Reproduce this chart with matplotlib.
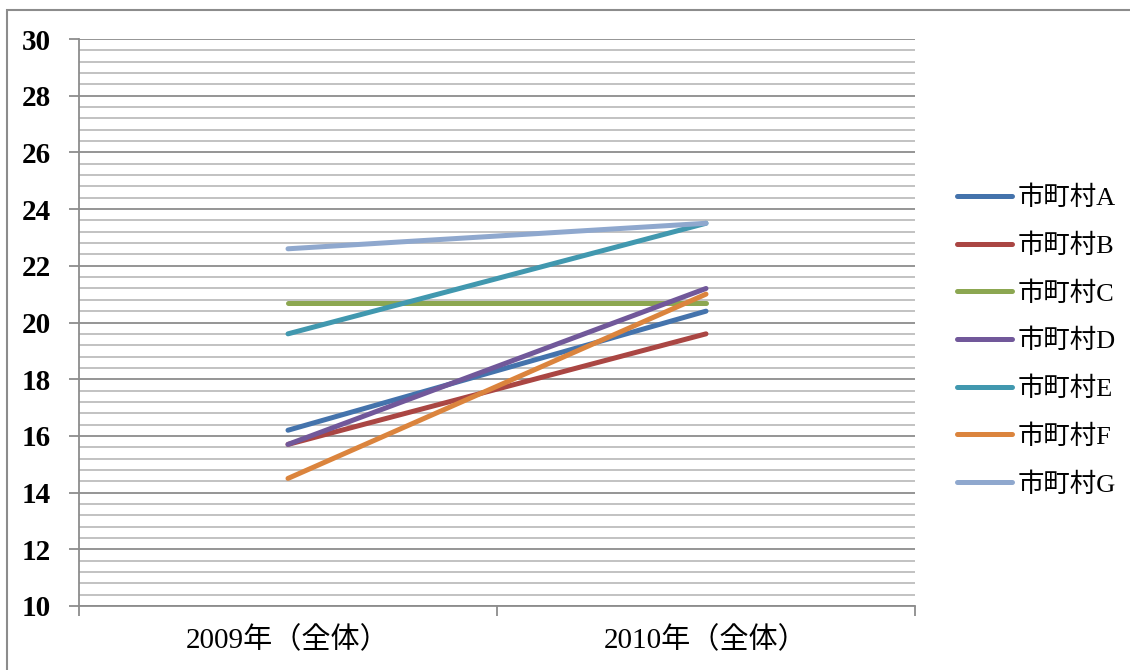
import matplotlib.pyplot as plt
from matplotlib.patches import Rectangle
from matplotlib.ticker import MultipleLocator

categories = ['2009年（全体）', '2010年（全体）']
names = ['市町村A', '市町村B', '市町村C', '市町村D', '市町村E', '市町村F', '市町村G']
values = {
    '市町村A': [16.2, 20.4],
    '市町村B': [15.7, 19.6],
    '市町村C': [20.7, 20.7],
    '市町村D': [15.7, 21.2],
    '市町村E': [19.6, 23.5],
    '市町村F': [14.5, 21.0],
    '市町村G': [22.6, 23.5],
}
colors = ['#4473AC', '#AA4643', '#8CA751', '#71589A', '#4198AF', '#DB843D', '#8FA8CE']

fonts = ['Liberation Serif', 'Noto Sans CJK JP', 'DejaVu Sans']
plt.rcParams['font.family'] = fonts

fig = plt.figure(figsize=(11.3, 6.7), dpi=100)
ax = fig.add_axes([79 / 1130, 1 - 606 / 670, 836 / 1130, 567 / 670])

x = [0.5, 1.5]
for name, c in zip(names, colors):
    ax.plot(x, values[name], color=c, lw=3.6, solid_capstyle='round', label=name, zorder=3)

ax.set_xlim(0, 2)
ax.set_ylim(10, 30)
ax.yaxis.set_major_locator(MultipleLocator(2))
ax.yaxis.set_minor_locator(MultipleLocator(0.4))
ax.grid(which='major', axis='y', color='#8c8c8c', lw=1.3, zorder=1)
ax.grid(which='minor', axis='y', color='#bdbdbd', lw=1.3, zorder=1)
ax.tick_params(axis='y', which='minor', length=0)
ax.tick_params(axis='y', which='major', length=7, width=1.3, color='#8c8c8c',
               labelsize=21, pad=13)
for t in ax.get_yticklabels():
    t.set_fontweight('bold')

ax.set_xticks([0, 1, 2])
ax.set_xticklabels([])
ax.set_xticks(x, minor=True)
ax.set_xticklabels(categories, minor=True, fontsize=21)
ax.tick_params(axis='x', which='minor', length=0, pad=15)
ax.tick_params(axis='x', which='major', length=7, width=1.3, color='#8c8c8c')

for s in ['top', 'right']:
    ax.spines[s].set_visible(False)
for s in ['left', 'bottom']:
    ax.spines[s].set_color('#8c8c8c')
    ax.spines[s].set_linewidth(1.3)

fig.legend(loc='center left', bbox_to_anchor=(933 / 1130, 1 - 341 / 670),
           frameon=False, fontsize=19, handlelength=2.1, handletextpad=0.2,
           labelspacing=0.88)

fig.add_artist(Rectangle((7 / 1130, -0.1), 1.2, 1 - 10 / 670 + 0.1,
                         transform=fig.transFigure, fill=False,
                         edgecolor='#8c8c8c', lw=1.5))

fig.savefig('out.png', dpi=100)
